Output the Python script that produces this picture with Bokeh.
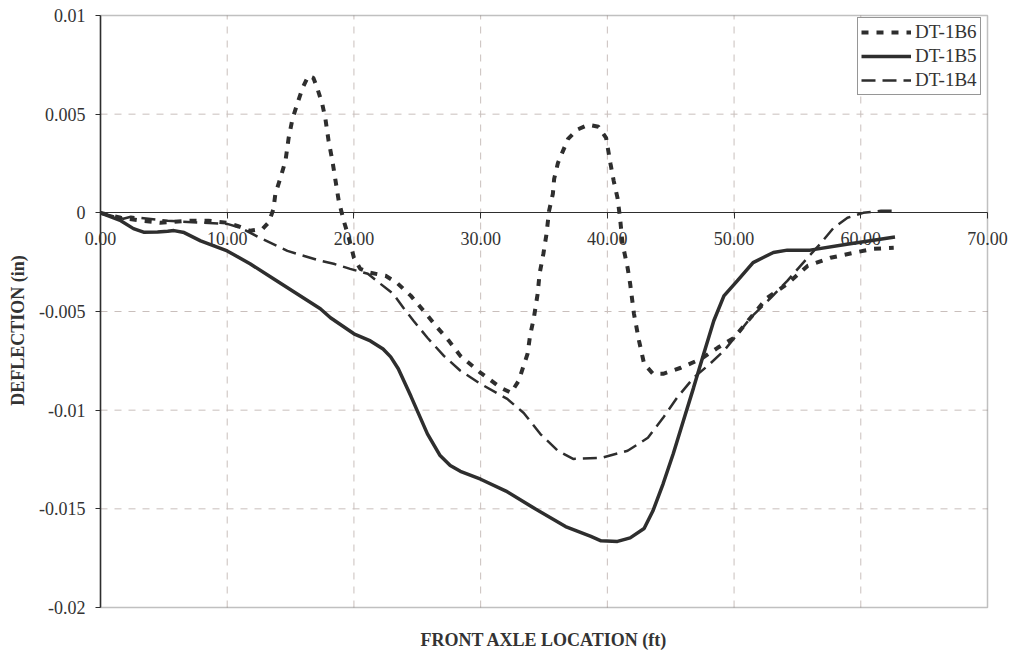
import math
from bokeh.plotting import figure
from bokeh.models import (Range1d, LinearAxis, FixedTicker, CustomJSTickFormatter,
                          NumeralTickFormatter, Legend, LegendItem, Label, BoxAnnotation)
from bokeh.embed import file_html
from bokeh.resources import INLINE

# ---------------- data ----------------
x_b6 = [0, 1.6, 3.2, 4.7, 6.9, 8.5, 10.0, 10.8, 11.8, 12.8, 13.3, 13.65, 13.8, 14.2, 14.6,
        14.85, 15.15, 15.55, 15.95, 16.4, 16.8, 17.1, 17.5, 17.75, 18.0, 18.3, 18.55, 18.8,
        19.2, 19.6, 20.0, 20.5, 21.3, 22.5, 23.4, 24.5, 25.5, 26.6, 27.5, 28.4, 30.0, 31.6,
        32.4, 33.0, 33.7, 33.9, 34.2, 34.5, 34.65, 34.95, 35.2, 35.4, 35.7, 35.8, 36.1, 36.5,
        36.9, 37.6, 38.5, 39.3, 39.9, 40.25, 40.5, 40.8, 41.0, 41.2, 41.6, 41.8, 42.1, 42.5,
        42.9, 43.6, 44.4, 45.8, 47.4, 48.7, 50.0, 51.1, 52.6, 54.2, 55.8, 57.6, 59.4, 61.0, 62.6]
y_b6 = [0, -0.00025, -0.0004, -0.0005, -0.0004, -0.0004, -0.0005, -0.00066, -0.00091, -0.00081,
        -0.00046, 0.0002, 0.00096, 0.00177, 0.00264, 0.0038, 0.00476, 0.00557, 0.00633, 0.00694,
        0.00684, 0.00633, 0.00552, 0.00476, 0.00365, 0.00264, 0.00162, 0.00061, -0.00041,
        -0.00127, -0.00228, -0.00284, -0.00304, -0.00319, -0.00355, -0.00421, -0.00497, -0.00583,
        -0.00649, -0.00725, -0.00811, -0.00887, -0.00912, -0.00851, -0.00715, -0.00623, -0.00532,
        -0.0041, -0.00309, -0.00208, -0.00106, 0.0001, 0.00096, 0.00172, 0.00253, 0.00314,
        0.00375, 0.00421, 0.00446, 0.00436, 0.0038, 0.00248, 0.00162, 0.00076, -0.00025,
        -0.00157, -0.00279, -0.0036, -0.00512, -0.00649, -0.00765, -0.00816, -0.00816, -0.00785,
        -0.0074, -0.00684, -0.00633, -0.00547, -0.00431, -0.0036, -0.00269, -0.00228, -0.00203,
        -0.00182, -0.00177]

x_b5 = [0, 1.6, 2.6, 3.4, 4.5, 5.3, 5.8, 6.6, 7.9, 10.0, 11.8, 13.65, 17.35, 18.15, 20.0,
        21.3, 22.3, 22.9, 23.5, 24.5, 25.8, 26.8, 27.6, 28.4, 30.0, 32.0, 34.3, 36.7, 38.7, 39.5,
        40.8, 41.8, 42.9, 43.6, 44.4, 45.2, 46.0, 46.8, 47.6, 48.4, 49.2, 50.25, 51.5, 53.1,
        54.2, 56.0, 58.9, 62.7]
y_b5 = [0, -0.0004, -0.0008, -0.00098, -0.00097, -0.00093, -0.0009, -0.001, -0.00142,
        -0.00193, -0.00258, -0.00334, -0.00486, -0.00532, -0.00613, -0.00649, -0.0069, -0.0073,
        -0.0079, -0.0093, -0.0112, -0.0123, -0.0128, -0.0131, -0.0135, -0.0141, -0.0150, -0.0159,
        -0.0164, -0.01662, -0.01665, -0.01647, -0.0160, -0.0151, -0.01373, -0.01221, -0.01054,
        -0.00887, -0.00715, -0.00547, -0.00421, -0.00345, -0.00252, -0.00201, -0.00189, -0.00189,
        -0.00159, -0.00122]

x_b4 = [0, 1.8, 2.4, 5.3, 7.9, 10.0, 11.05, 12.6, 14.75, 17.35, 18.4, 19.7, 21.1, 22.1, 23.1,
        23.9, 24.7, 25.8, 27.1, 28.4, 30.0, 32.1, 33.4, 34.7, 36.1, 37.3, 39.5, 41.6, 43.2,
        44.4, 45.5, 46.8, 48.1, 49.2, 50.3, 51.3, 52.9, 54.2, 55.8, 56.8, 57.85, 58.95, 60.2,
        61.6, 62.5]
y_b4 = [0, -0.0003, -0.0002, -0.0004, -0.0005, -0.00056, -0.00076, -0.00127, -0.00193,
        -0.00243, -0.00258, -0.00284, -0.00309, -0.0036, -0.0041, -0.00481, -0.00547, -0.00633,
        -0.00725, -0.008, -0.00867, -0.00943, -0.01014, -0.0112, -0.01206, -0.01247, -0.01242,
        -0.01206, -0.0114, -0.01039, -0.00937, -0.00836, -0.00765, -0.00699, -0.00613, -0.00532,
        -0.00431, -0.00345, -0.00228, -0.00157, -0.00076, -0.00025, 0.0, 0.0001, 0.0001]

series_names = ["DT-1B6", "DT-1B5", "DT-1B4"]
x_ticks = [0, 10, 20, 30, 40, 50, 60, 70]
y_ticks = [0.01, 0.005, 0, -0.005, -0.01, -0.015, -0.02]
x_grid = [10, 20, 30, 40, 50, 60]
y_grid = [0.005, -0.005, -0.01, -0.015]
x_title = "FRONT AXLE LOCATION (ft)"
y_title = "DEFLECTION (in)"

# ---------------- layout ----------------
W, H = 1014, 655
BOX_L, BOX_R, BOX_T, BOX_B = 100, 987, 15, 607   # plot box in page pixels
X0, X1 = x_ticks[0], x_ticks[-1]
Y0, Y1 = y_ticks[-1], y_ticks[0]
ppx = (BOX_R - BOX_L) / (X1 - X0)
ppy = (BOX_B - BOX_T) / (Y1 - Y0)
x_range = Range1d(X0 - BOX_L / ppx, X1 + (W - BOX_R) / ppx)
y_range = Range1d(Y0 - (H - BOX_B) / ppy, Y1 + BOX_T / ppy)

FONT = "Liberation Serif"
INK = "#2e2e2e"
TXT = "#333333"
GRID = "#c9bfbc"

p = figure(width=W, height=H, output_backend="svg", toolbar_location=None,
           x_range=x_range, y_range=y_range,
           x_axis_location=None, y_axis_location=None, min_border=0)
p.min_border_left = p.min_border_right = p.min_border_top = p.min_border_bottom = 0
p.background_fill_color = "white"
p.border_fill_color = "white"
p.outline_line_color = None
p.grid.visible = False

# dashed grid inside the plot box
p.multi_line([[g, g] for g in x_grid], [[Y0, Y1] for g in x_grid],
             line_color=GRID, line_width=1, line_dash="7 7", level="underlay")
p.multi_line([[X0, X1] for g in y_grid], [[g, g] for g in y_grid],
             line_color=GRID, line_width=1, line_dash="7 7", level="underlay")

# plot box
p.add_layout(BoxAnnotation(left=X0, right=X1, bottom=Y0, top=Y1, fill_color=None,
                           line_color=INK, line_width=1.5))

# y axis on x = 0
yax = LinearAxis(ticker=FixedTicker(ticks=y_ticks), fixed_location=X0, bounds=(Y0, Y1),
                 formatter=CustomJSTickFormatter(code="return String(Math.round(tick*1000)/1000)"))
yax.axis_line_color = INK
yax.axis_line_width = 1.5
yax.major_tick_line_color = INK
yax.major_tick_out = 5
yax.major_tick_in = 0
yax.minor_tick_line_color = None
yax.major_label_standoff = 10
yax.major_label_text_font = FONT
yax.major_label_text_font_size = "18px"
yax.major_label_text_color = TXT
p.add_layout(yax, "left")

# x axis on y = 0
xax = LinearAxis(ticker=FixedTicker(ticks=x_ticks), fixed_location=0, bounds=(X0, X1),
                 formatter=NumeralTickFormatter(format="0.00"))
xax.axis_line_color = INK
xax.axis_line_width = 1.2
xax.major_tick_line_color = INK
xax.major_tick_out = 6
xax.major_tick_in = 0
xax.minor_tick_line_color = None
xax.major_label_standoff = 13
xax.major_label_text_font = FONT
xax.major_label_text_font_size = "18px"
xax.major_label_text_color = TXT
p.add_layout(xax, "below")

# axis titles
p.add_layout(Label(x=(X0 + X1) / 2, y=Y0, y_offset=-22, text=x_title, text_align="center",
                   text_baseline="top", text_font=FONT, text_font_size="18px",
                   text_font_style="bold", text_color=TXT))
p.add_layout(Label(x=17, y=H - 330, x_units="screen", y_units="screen", angle=math.pi / 2,
                   text=y_title, text_align="center", text_baseline="middle", text_font=FONT,
                   text_font_size="18px", text_font_style="bold", text_color=TXT))

r6 = p.line(x_b6, y_b6, line_color=INK, line_width=4, line_dash="7 8")
r5 = p.line(x_b5, y_b5, line_color=INK, line_width=3.5)
r4 = p.line(x_b4, y_b4, line_color=INK, line_width=2.5, line_dash="14 7")

legend = Legend(items=[LegendItem(label=series_names[0], renderers=[r6]),
                       LegendItem(label=series_names[1], renderers=[r5]),
                       LegendItem(label=series_names[2], renderers=[r4])],
                location=(857, H - 95))
legend.margin = 0
legend.padding = 3
legend.spacing = 2
legend.glyph_width = 50
legend.glyph_height = 20
legend.label_height = 20
legend.label_standoff = 4
legend.label_text_font = FONT
legend.label_text_font_size = "19px"
legend.label_text_color = TXT
legend.border_line_color = INK
legend.border_line_width = 1
legend.background_fill_color = "white"
legend.background_fill_alpha = 1
p.add_layout(legend, "center")

open("out.html", "w").write(file_html(p, INLINE))
